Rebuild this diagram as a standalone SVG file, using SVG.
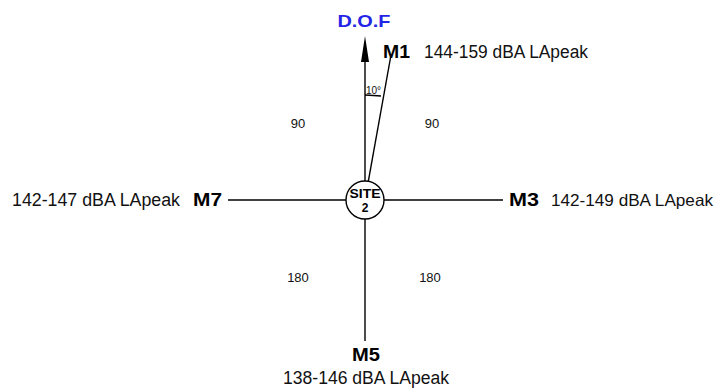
<svg xmlns="http://www.w3.org/2000/svg" width="719" height="388" viewBox="0 0 719 388">
<style>
.ln{stroke:#000;stroke-width:1.4;fill:none}
.lab{font-family:"Liberation Sans",Arial,sans-serif;font-size:18px;fill:#111}
.m{font-family:"Liberation Sans",Arial,sans-serif;font-size:18px;font-weight:bold;fill:#000}
.q{font-family:"Liberation Sans",Arial,sans-serif;font-size:13px;fill:#111}
</style>
<rect width="719" height="388" fill="#fff"/>
<g id="connectors">
<line class="ln" x1="365" y1="60" x2="365" y2="181"/>
<polygon points="365,36 361,62 369,62" fill="#000"/>
<line class="ln" x1="368.3" y1="181.3" x2="391" y2="55"/>
<line class="ln" x1="365" y1="219" x2="365" y2="341"/>
<line class="ln" x1="228" y1="200" x2="346" y2="200"/>
<line class="ln" x1="384" y1="200" x2="503" y2="200"/>
<path class="ln" d="M365,95 Q374,95.5 381,96" stroke-width="1"/>
</g>
<g id="dof"><text x="364" y="27" text-anchor="middle" font-family="Liberation Sans,Arial,sans-serif" font-size="17" font-weight="bold" fill="#2424e6" textLength="53" lengthAdjust="spacingAndGlyphs">D.O.F</text></g>
<g id="angle"><text x="366" y="94" font-family="Liberation Sans,Arial,sans-serif" font-size="10" fill="#111">10°</text></g>
<g id="site2">
<circle cx="365" cy="200" r="19" fill="#fff" stroke="#000" stroke-width="1.4"/>
<text x="365" y="198" text-anchor="middle" font-family="Liberation Sans,Arial,sans-serif" font-size="12" font-weight="bold" textLength="31" lengthAdjust="spacingAndGlyphs">SITE</text>
<text x="365" y="212" text-anchor="middle" font-family="Liberation Sans,Arial,sans-serif" font-size="12" font-weight="bold">2</text>
</g>
<g id="m1"><text class="m" x="383" y="58" textLength="27" lengthAdjust="spacingAndGlyphs">M1</text><text class="lab" x="424" y="58" textLength="164" lengthAdjust="spacingAndGlyphs">144-159 dBA LApeak</text></g>
<g id="m7"><text class="lab" x="12" y="206" textLength="168" lengthAdjust="spacingAndGlyphs">142-147 dBA LApeak</text><text class="m" x="193" y="206" textLength="29" lengthAdjust="spacingAndGlyphs">M7</text></g>
<g id="m3"><text class="m" x="509" y="206" textLength="30" lengthAdjust="spacingAndGlyphs">M3</text><text class="lab" x="551" y="206" style="font-size:16.5px" textLength="162" lengthAdjust="spacingAndGlyphs">142-149 dBA LApeak</text></g>
<g id="m5"><text class="m" x="366" y="361" text-anchor="middle" textLength="28" lengthAdjust="spacingAndGlyphs">M5</text><text class="lab" x="366" y="384" text-anchor="middle" textLength="166" lengthAdjust="spacingAndGlyphs">138-146 dBA LApeak</text></g>
<g id="angles">
<text class="q" x="298" y="128" text-anchor="middle">90</text>
<text class="q" x="432" y="128" text-anchor="middle">90</text>
<text class="q" x="298" y="282" text-anchor="middle">180</text>
<text class="q" x="430" y="282" text-anchor="middle">180</text>
</g>
</svg>
